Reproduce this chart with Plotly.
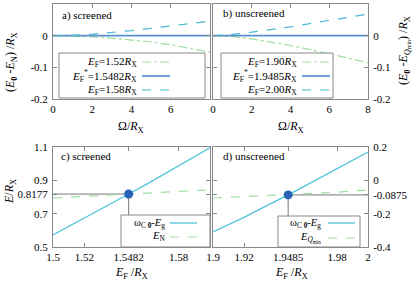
import plotly.graph_objects as go

# ---- data ----
omega = [0, 1, 2, 3, 4, 5, 6, 7, 8]
a_ef152 = [0, -0.001, -0.004, -0.008, -0.013, -0.020, -0.029, -0.040, -0.052]
a_ef15482 = [0, 0, 0, 0, 0, 0, 0, 0, 0]
a_ef158 = [0, 0.001, 0.005, 0.010, 0.016, 0.023, 0.030, 0.038, 0.046]

b_ef190 = [0, -0.003, -0.010, -0.020, -0.031, -0.044, -0.057, -0.071, -0.086]
b_ef19485 = [0, 0, 0, 0, 0, 0, 0, 0, 0]
b_ef200 = [0, 0.004, 0.011, 0.019, 0.028, 0.038, 0.048, 0.058, 0.068]

c_ef = [1.50, 1.51, 1.52, 1.53, 1.54, 1.5482, 1.56, 1.57, 1.58, 1.59, 1.60]
c_omega = [0.572, 0.622, 0.672, 0.724, 0.776, 0.8177, 0.879, 0.934, 0.988, 1.042, 1.095]
c_en = [0.794, 0.799, 0.804, 0.809, 0.814, 0.8177, 0.823, 0.828, 0.833, 0.838, 0.843]
c_star = (1.5482, 0.8177)

d_ef = [1.90, 1.91, 1.92, 1.93, 1.94, 1.9485, 1.96, 1.97, 1.98, 1.99, 2.00]
d_omega = [-0.310, -0.268, -0.222, -0.174, -0.128, -0.0875, -0.030, 0.020, 0.070, 0.120, 0.170]
d_eq = [-0.106, -0.102, -0.098, -0.094, -0.091, -0.0875, -0.082, -0.077, -0.071, -0.065, -0.058]
d_star = (1.9485, -0.0875)

a_ticks = [-0.2, -0.1, 0, 0.1]
a_ticktext = ["-0.2", "-0.1", "0", "0.1"]
c_yticks = [0.5, 0.7, 0.8177, 0.9, 1.1]
c_yticktext = ["0.5", "0.7", "0.8177", "0.9", "1.1"]
c_xticks = [1.5, 1.52, 1.5482, 1.58]
c_xticktext = ["1.5", "1.52", "1.5482", "1.58"]
d_yticks = [-0.4, -0.2, -0.0875, 0, 0.2]
d_yticktext = ["-0.4", "-0.2", "-0.0875", "0", "0.2"]
d_xticks = [1.9, 1.92, 1.9485, 1.98, 2]
d_xticktext = ["1.9", "1.92", "1.9485", "1.98", "2"]

GREEN = "#9fdf9f"
CYAN = "#45b9d3"
BLUE = "#5a8fd2"
CYAN2 = "#50c3dc"
GRAY = "#777777"
FRAME = "#888888"
FONT = "Liberation Serif, Times New Roman, serif"

W, H = 415, 281
def px(x):
    return x / W
def py(y):
    return 1 - y / H

fig = go.Figure()

def ef(v):
    return f"<i>E</i><sub>F</sub>={v}<i>R</i><sub>X</sub>"

OMEGA_EG = "ω<sub>C <b>0</b></sub>-<i>E</i><sub>g</sub>"

st_green_dd = dict(color=GREEN, dash="dashdot", width=1.2)
st_blue = dict(color=BLUE, width=1.7)
st_cyan_d = dict(color=CYAN, dash="dash", width=1.2)
st_cyan = dict(color=CYAN2, width=1.3)
st_green_d = dict(color=GREEN, dash="dash", width=1.2)

# panel a
fig.add_trace(go.Scatter(x=omega, y=a_ef152, mode="lines", line=st_green_dd, name=ef("1.52"), xaxis="x", yaxis="y"))
fig.add_trace(go.Scatter(x=omega, y=a_ef15482, mode="lines", line=st_blue,
                         name="<i>E</i><sub>F</sub><sup>*</sup>=1.5482<i>R</i><sub>X</sub>", xaxis="x", yaxis="y"))
fig.add_trace(go.Scatter(x=omega, y=a_ef158, mode="lines", line=st_cyan_d, name=ef("1.58"), xaxis="x", yaxis="y"))
# panel b
fig.add_trace(go.Scatter(x=omega, y=b_ef190, mode="lines", line=st_green_dd, name=ef("1.90"), xaxis="x2", yaxis="y2"))
fig.add_trace(go.Scatter(x=omega, y=b_ef19485, mode="lines", line=st_blue,
                         name="<i>E</i><sub>F</sub><sup>*</sup>=1.9485<i>R</i><sub>X</sub>", xaxis="x2", yaxis="y2"))
fig.add_trace(go.Scatter(x=omega, y=b_ef200, mode="lines", line=st_cyan_d, name=ef("2.00"), xaxis="x2", yaxis="y2"))

# panel c
fig.add_trace(go.Scatter(x=[c_ef[0], c_star[0], c_star[0]], y=[c_star[1], c_star[1], c_yticks[0]], mode="lines",
                         line=dict(color=GRAY, width=1), xaxis="x3", yaxis="y3", hoverinfo="skip"))
fig.add_trace(go.Scatter(x=c_ef, y=c_omega, mode="lines", line=st_cyan, name=OMEGA_EG, xaxis="x3", yaxis="y3"))
fig.add_trace(go.Scatter(x=c_ef, y=c_en, mode="lines", line=st_green_d, name="<i>E</i><sub>N</sub>", xaxis="x3", yaxis="y3"))
fig.add_trace(go.Scatter(x=[c_star[0]], y=[c_star[1]], mode="markers", marker=dict(color="#2862b6", size=9),
                         xaxis="x3", yaxis="y3"))

# panel d
fig.add_trace(go.Scatter(x=[d_ef[-1], d_star[0], d_star[0]], y=[d_star[1], d_star[1], d_yticks[0]], mode="lines",
                         line=dict(color=GRAY, width=1), xaxis="x4", yaxis="y4", hoverinfo="skip"))
fig.add_trace(go.Scatter(x=d_ef, y=d_omega, mode="lines", line=st_cyan, name=OMEGA_EG, xaxis="x4", yaxis="y4"))
fig.add_trace(go.Scatter(x=d_ef, y=d_eq, mode="lines", line=st_green_d,
                         name="<i>E</i><sub><i>Q</i><sub>min</sub></sub>", xaxis="x4", yaxis="y4"))
fig.add_trace(go.Scatter(x=[d_star[0]], y=[d_star[1]], mode="markers", marker=dict(color="#2862b6", size=9),
                         xaxis="x4", yaxis="y4"))

xa = [px(53), px(210)]
xb = [px(213), px(368)]
ytop = [py(99), py(4)]
ybot = [py(247), py(147)]

tickfont = dict(family=FONT, size=11, color="black")
common = dict(showline=True, linecolor=FRAME, linewidth=1, mirror="ticks", ticks="inside",
              ticklen=4, tickcolor=FRAME, showgrid=False, zeroline=False, tickfont=tickfont)
cx = dict(common, ticklabelstandoff=0)
cy = dict(common, ticklabelstandoff=2)

fig.update_layout(
    width=W, height=H, margin=dict(l=0, r=0, t=0, b=0, autoexpand=False),
    plot_bgcolor="white", paper_bgcolor="white", showlegend=False,
    xaxis=dict(domain=xa, range=[0, 8], tickvals=[0, 2, 4, 6], anchor="y", **cx),
    yaxis=dict(domain=ytop, range=[-0.2, 0.1], tickvals=a_ticks, ticktext=a_ticktext, anchor="x", **cy),
    xaxis2=dict(domain=xb, range=[0, 8], tickvals=[0, 2, 4, 6, 8], anchor="y2", **cx),
    yaxis2=dict(domain=ytop, range=[-0.2, 0.1], tickvals=a_ticks, ticktext=a_ticktext, anchor="x2", side="right", **cy),
    xaxis3=dict(domain=xa, range=[1.5, 1.6], tickvals=c_xticks, ticktext=c_xticktext, anchor="y3", **cx),
    yaxis3=dict(domain=ybot, range=[0.5, 1.1], tickvals=c_yticks, ticktext=c_yticktext, anchor="x3", **cy),
    xaxis4=dict(domain=xb, range=[1.9, 2.0], tickvals=d_xticks, ticktext=d_xticktext, anchor="y4", **cx),
    yaxis4=dict(domain=ybot, range=[-0.4, 0.2], tickvals=d_yticks, ticktext=d_yticktext, anchor="x4", side="right", **cy),
)

txt_font = dict(family=FONT, size=11, color="black")
key_font = dict(family=FONT, size=10.5, color="black")
title_font = dict(family=FONT, size=12, color="black")

# panel labels
for x0, y0, label in [(60, 15, "a) screened"), (221, 14, "b) unscreened"),
                      (59, 156, "c) screened"), (221, 156, "d) unscreened")]:
    fig.add_annotation(xref="paper", yref="paper", x=px(x0), y=py(y0), text=label, showarrow=False,
                       xanchor="left", yanchor="middle", font=txt_font)

# axis titles
OMEGA_T = "Ω/<i>R</i><sub>X</sub>"
EF_T = "<i>E</i><sub>F</sub> /<i>R</i><sub>X</sub>"
for x0, y0, t, ang in [
    (131, 127, OMEGA_T, 0), (291, 127, OMEGA_T, 0),
    (131, 273, EF_T, 0), (291, 273, EF_T, 0),
    (11, 62, "(<i>E</i><sub><b>0</b></sub> -<i>E</i><sub>N</sub>) /<i>R</i><sub>X</sub>", -90),
    (404, 51, "(<i>E</i><sub><b>0</b></sub> -<i>E</i><sub><i>Q</i><sub>min</sub></sub>) /<i>R</i><sub>X</sub>", -90),
    (10, 192, "<i>E</i>/<i>R</i><sub>X</sub>", -90),
]:
    fig.add_annotation(xref="paper", yref="paper", x=px(x0), y=py(y0), text=t, showarrow=False,
                       xanchor="center", yanchor="middle", textangle=ang, font=title_font)

# gnuplot-style keys: box, right-aligned text, sample line at right
def add_key(box, text_right, line_x, entries, font):
    x0, x1, y0, y1 = box
    fig.add_shape(type="rect", xref="paper", yref="paper", x0=px(x0), x1=px(x1), y0=py(y1), y1=py(y0),
                  line=dict(color=FRAME, width=1), fillcolor="white", layer="above")
    for yc, label, style in entries:
        fig.add_annotation(xref="paper", yref="paper", x=px(text_right), y=py(yc), text=label, showarrow=False,
                           xanchor="right", yanchor="middle", font=font, borderpad=0)
        fig.add_shape(type="line", xref="paper", yref="paper", x0=px(line_x[0]), x1=px(line_x[1]),
                      y0=py(yc), y1=py(yc), line=style, layer="above")

add_key((59, 205, 53, 98), 138, (142, 170), [
    (62, ef("1.52"), st_green_dd),
    (76, "<i>E</i><sub>F</sub><sup>*</sup>=1.5482<i>R</i><sub>X</sub>", st_blue),
    (90, ef("1.58"), st_cyan_d)], txt_font)
add_key((221, 333, 53, 98), 298, (302, 330), [
    (62, ef("1.90"), st_green_dd),
    (76, "<i>E</i><sub>F</sub><sup>*</sup>=1.9485<i>R</i><sub>X</sub>", st_blue),
    (90, ef("2.00"), st_cyan_d)], txt_font)
add_key((121, 210, 215, 247), 166, (170, 197), [
    (223, OMEGA_EG, st_cyan),
    (237, "<i>E</i><sub>N</sub>", st_green_d)], key_font)
add_key((278, 360, 216, 247), 322, (328, 355), [
    (223, OMEGA_EG, st_cyan),
    (238, "<i>E</i><sub><i>Q</i><sub>min</sub></sub>", st_green_d)], key_font)

fig.write_html("out.html", config={"displayModeBar": False},
               post_script="document.body.style.margin='0';document.body.style.overflow='hidden';")
